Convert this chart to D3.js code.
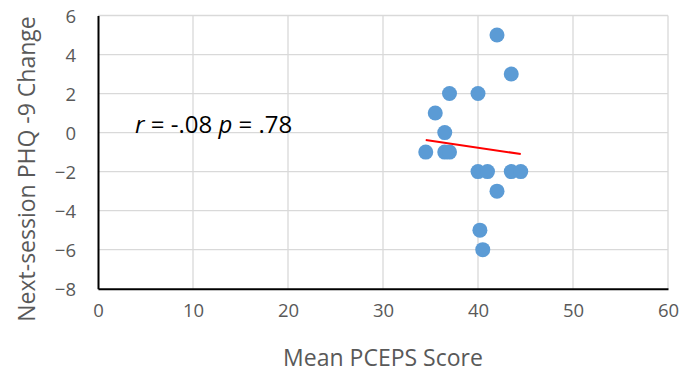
<!DOCTYPE html>
<html>
<head>
<meta charset="utf-8">
<script src="https://cdn.jsdelivr.net/npm/d3@7"></script>
<style>
  html, body { margin: 0; padding: 0; background: #fff; }
  svg { display: block; font-family: "Open Sans", "Liberation Sans", sans-serif; }
</style>
</head>
<body>
<svg id="chart" width="686" height="374"></svg>
<script>
// Mean PCEPS score per session and the change in PHQ-9 at the following session
const pceps     = [42, 43.5, 37, 40, 35.5, 36.5, 34.5, 36.5, 37, 40, 41, 43.5, 44.5, 42, 40.2, 40.5];
const phqChange = [5, 3, 2, 2, 1, 0, -1, -1, -1, -2, -2, -2, -2, -3, -5, -6];
const xTicks = [0, 10, 20, 30, 40, 50, 60];
const yTicks = [-8, -6, -4, -2, 0, 2, 4, 6];

const svg = d3.select("#chart");
const plot = { left: 98, right: 668, top: 15.5, bottom: 288.7 };

const x = d3.scaleLinear().domain([0, 60]).range([plot.left, plot.right]);
const y = d3.scaleLinear().domain([-8, 6]).range([plot.bottom, plot.top]);

const gridColor = "#d9d9d9";
const labelColor = "#595959";

// gridlines
svg.append("g").selectAll("line.h").data(yTicks.filter(d => d > -8)).join("line")
  .attr("x1", plot.left).attr("x2", plot.right)
  .attr("y1", d => y(d)).attr("y2", d => y(d))
  .attr("stroke", gridColor).attr("stroke-width", 1.3);
svg.append("g").selectAll("line.v").data(xTicks.filter(d => d > 0)).join("line")
  .attr("x1", d => x(d)).attr("x2", d => x(d))
  .attr("y1", plot.top).attr("y2", plot.bottom)
  .attr("stroke", gridColor).attr("stroke-width", 1.3);

// axis lines
const yAxis = svg.append("g").attr("transform", `translate(${plot.left},0)`)
  .call(d3.axisLeft(y).tickValues(yTicks).tickSize(0).tickPadding(22).tickFormat(d3.format("d")));
const xAxis = svg.append("g").attr("transform", `translate(0,${plot.bottom})`)
  .call(d3.axisBottom(x).tickValues(xTicks).tickSize(0).tickPadding(22).tickFormat(d3.format("d")));
[xAxis, yAxis].forEach(g => {
  g.select(".domain").attr("stroke", "#000").attr("stroke-width", 2);
  g.selectAll("text").attr("fill", labelColor).attr("font-size", 18.5)
    .attr("font-family", "'Open Sans', sans-serif");
});
yAxis.selectAll("text").attr("dy", "0.36em");
xAxis.selectAll("text").attr("dy", "0.35em");

// axis titles
svg.append("text")
  .attr("x", (plot.left + plot.right) / 2).attr("y", 366)
  .attr("text-anchor", "middle").attr("fill", labelColor).attr("font-size", 23)
  .text("Mean PCEPS Score");
svg.append("text")
  .attr("transform", "translate(35,169) rotate(-90)")
  .attr("text-anchor", "middle").attr("fill", labelColor).attr("font-size", 23)
  .text("Next-session PHQ -9 Change");

// least-squares trend line over the observed range
const mx = d3.mean(pceps), my = d3.mean(phqChange);
const sxy = d3.sum(pceps, (v, i) => (v - mx) * (phqChange[i] - my));
const sxx = d3.sum(pceps, v => (v - mx) * (v - mx));
const slope = sxy / sxx, intercept = my - slope * mx;
const [x0, x1] = d3.extent(pceps);

// data points
svg.append("g").selectAll("circle").data(pceps).join("circle")
  .attr("cx", d => x(d)).attr("cy", (d, i) => y(phqChange[i]))
  .attr("r", 7.5).attr("fill", "#5b9bd5");

svg.append("line")
  .attr("x1", x(x0)).attr("y1", y(intercept + slope * x0))
  .attr("x2", x(x1)).attr("y2", y(intercept + slope * x1))
  .attr("stroke", "#ff0000").attr("stroke-width", 2);

// correlation annotation
const note = svg.append("text").attr("x", 135).attr("y", 133)
  .attr("font-size", 24).attr("fill", "#000");
note.append("tspan").attr("font-style", "italic").text("r");
note.append("tspan").text(" = -.08 ");
note.append("tspan").attr("font-style", "italic").text("p");
note.append("tspan").text(" = .78");
</script>
</body>
</html>
